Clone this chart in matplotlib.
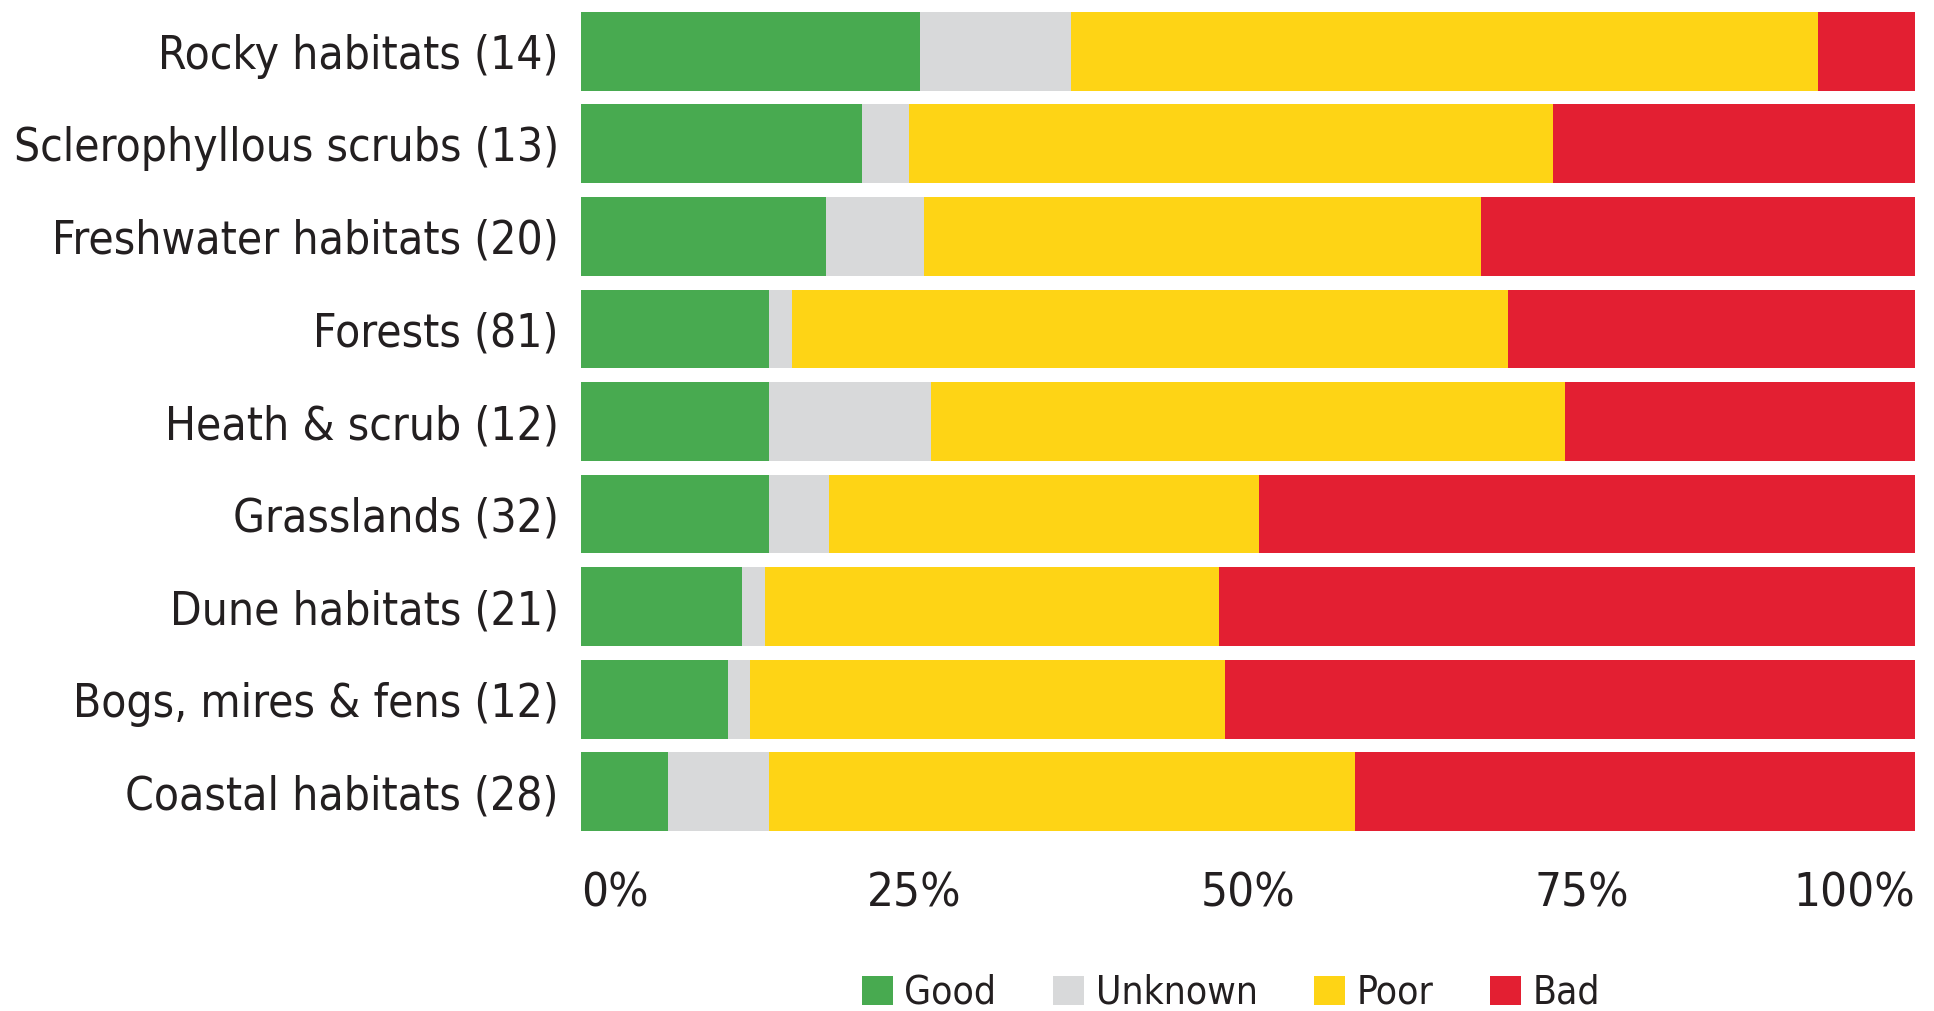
import matplotlib
matplotlib.use("Agg")
import matplotlib.pyplot as plt
import numpy as np

categories = [
    "Rocky habitats (14)",
    "Sclerophyllous scrubs (13)",
    "Freshwater habitats (20)",
    "Forests (81)",
    "Heath & scrub (12)",
    "Grasslands (32)",
    "Dune habitats (21)",
    "Bogs, mires & fens (12)",
    "Coastal habitats (28)",
]
good = [25.4, 21.1, 18.4, 14.1, 14.1, 14.1, 12.1, 11.0, 6.5]
unknown = [11.3, 3.5, 7.3, 1.7, 12.1, 4.5, 1.7, 1.7, 7.6]
poor = [56.0, 48.3, 41.8, 53.7, 47.6, 32.2, 34.0, 35.6, 43.9]
bad = [7.3, 27.1, 32.5, 30.5, 26.2, 49.2, 52.2, 51.7, 42.0]
series_names = ["Good", "Unknown", "Poor", "Bad"]
colors = ["#48AA50", "#D8D9DA", "#FED415", "#E31F32"]
xticks = [0, 25, 50, 75, 100]
xtick_labels = ["0%", "25%", "50%", "75%", "100%"]

TXT = "#231f20"
plt.rcParams["font.family"] = ["DejaVu Sans"]
plt.rcParams["font.stretch"] = "condensed"

fig = plt.figure(figsize=(19.34, 10.11), dpi=100)
ax = fig.add_axes([581 / 1934, 1 - 838 / 1011, (1915 - 581) / 1934, (838 - 5) / 1011])

y = np.arange(len(categories))
left = np.zeros(len(categories))
for vals, name, col in zip([good, unknown, poor, bad], series_names, colors):
    v = np.array(vals)
    ax.barh(y, v, left=left, height=0.85, color=col, label=name, linewidth=0)
    left = left + v

ax.set_xlim(0, 100)
ax.set_ylim(len(categories) - 0.5, -0.5)
ax.set_yticks(y)
ax.set_yticklabels(categories, fontsize=33, color=TXT)
ax.set_xticks(xticks)
labs = ax.set_xticklabels(xtick_labels, fontsize=34, color=TXT)
labs[0].set_ha("left")
labs[-1].set_ha("right")
ax.tick_params(axis="y", length=0, pad=16)
ax.tick_params(axis="x", length=0, pad=24)
for s in ax.spines.values():
    s.set_visible(False)

fig.legend(
    loc="center",
    bbox_to_anchor=(1231 / 1934, 1 - 993 / 1011),
    ncol=4,
    frameon=False,
    fontsize=28,
    handlelength=0.8,
    handleheight=0.77,
    handletextpad=0.3,
    columnspacing=1.45,
    borderpad=0,
    labelcolor=TXT,
)

fig.savefig("out.png", dpi=100)
